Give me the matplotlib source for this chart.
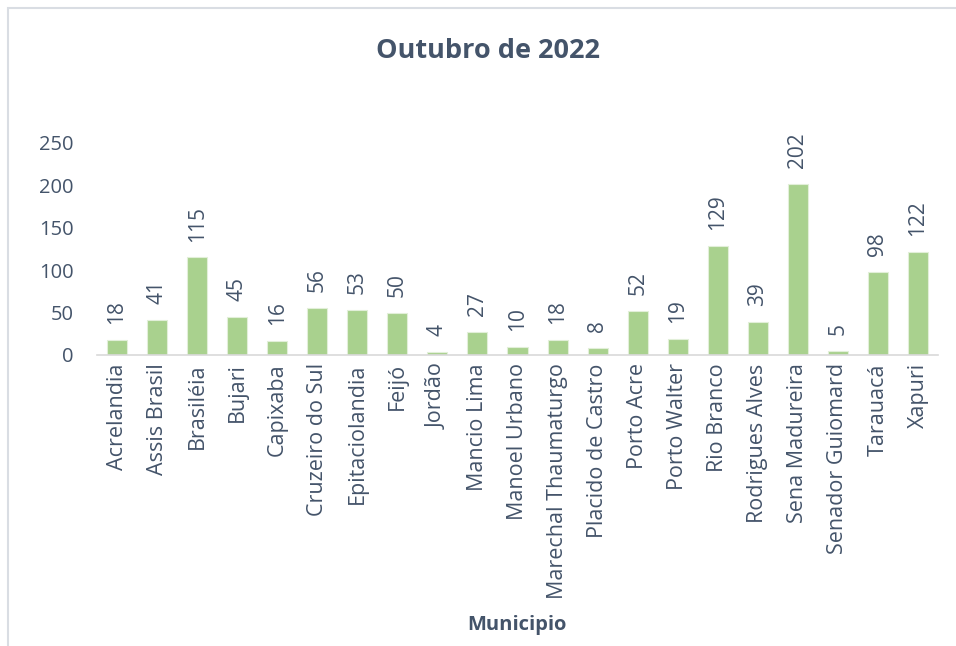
import matplotlib
matplotlib.use("Agg")
import matplotlib.pyplot as plt
from matplotlib.patches import Rectangle

municipios = ["Acrelandia", "Assis Brasil", "Brasiléia", "Bujari", "Capixaba",
              "Cruzeiro do Sul", "Epitaciolandia", "Feijó", "Jordão", "Mancio Lima",
              "Manoel Urbano", "Marechal Thaumaturgo", "Placido de Castro", "Porto Acre",
              "Porto Walter", "Rio Branco", "Rodrigues Alves", "Sena Madureira",
              "Senador Guiomard", "Tarauacá", "Xapuri"]
valores = [18, 41, 115, 45, 16, 56, 53, 50, 4, 27, 10, 18, 8, 52, 19, 129, 39, 202, 5, 98, 122]
yticks = [0, 50, 100, 150, 200, 250]

TXT = "#44546A"
BAR = "#A9D18E"
plt.rcParams['font.family'] = ['Open Sans', 'DejaVu Sans']

W, H = 956, 646
fig = plt.figure(figsize=(W / 100, H / 100), dpi=100)
fig.patch.set_facecolor("white")

# chart area border
fig.patches.append(Rectangle((8 / W, -0.1), 1.2, 1 - 8 / H + 0.1, transform=fig.transFigure,
                             fill=False, edgecolor="#D9DDE3", linewidth=1.5))

ax = fig.add_axes([97 / W, 1 - 355 / H, (938 - 97) / W, (355 - 143) / H])
x = list(range(len(municipios)))
ax.bar(x, valores, width=0.5, color=BAR, edgecolor="#E2EFD9", linewidth=0.8)
ax.set_xlim(-0.5, len(municipios) - 0.5)
ax.set_ylim(0, 250)
ax.set_yticks(yticks)
ax.set_yticklabels([str(v) for v in yticks], fontsize=14.5, color=TXT)
ax.set_xticks(x)
ax.set_xticklabels(municipios, rotation=90, fontsize=15.5, color=TXT)
ax.tick_params(axis='both', length=0)
ax.tick_params(axis='y', pad=17)
ax.tick_params(axis='x', pad=6)
for s in ["top", "right", "left"]:
    ax.spines[s].set_visible(False)
ax.spines["bottom"].set_color("#D9D9D9")
ax.spines["bottom"].set_linewidth(1.2)

for xi, v in zip(x, valores):
    ax.annotate(str(v), (xi, v), xytext=(0, 11.5), textcoords="offset points",
                rotation=90, ha="center", va="bottom", fontsize=15, color=TXT)

fig.text(488 / W, 1 - 51 / H, "Outubro de 2022", ha="center", va="center",
         fontsize=19.5, fontweight="bold", color=TXT)
fig.text(517 / W, 1 - 625 / H, "Municipio", ha="center", va="center",
         fontsize=14.5, fontweight="bold", color=TXT)

fig.savefig("out.png", dpi=100, facecolor="white")
